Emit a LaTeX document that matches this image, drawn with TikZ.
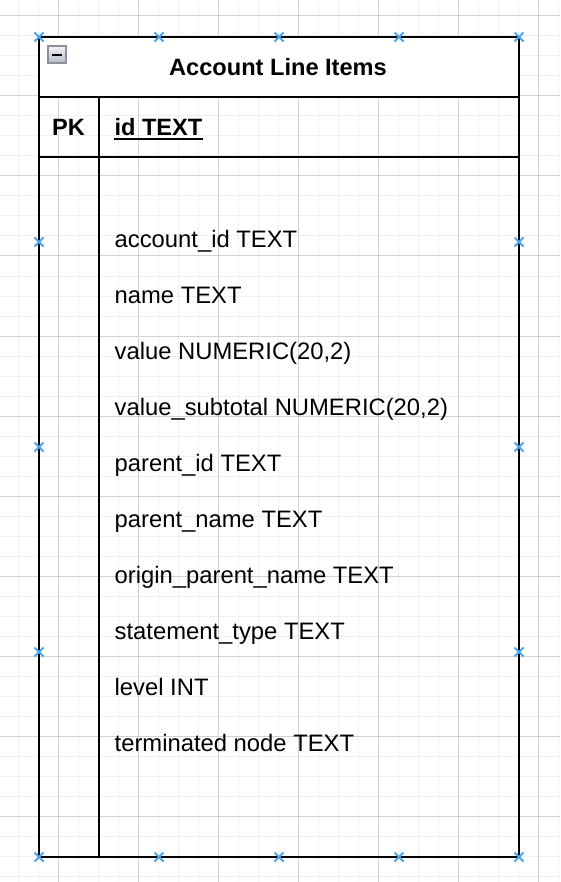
\documentclass[tikz,border=0pt]{standalone}
\usepackage{fontspec}
\setmainfont{Liberation Sans}
\definecolor{minorgrid}{HTML}{F0F0F0}
\definecolor{majorgrid}{HTML}{D2D2D2}
\definecolor{handle}{HTML}{4AA6F0}
\definecolor{iconborder}{HTML}{8A909C}
\definecolor{icontop}{HTML}{F4F4F6}
\definecolor{iconbot}{HTML}{B8BAC0}
\begin{document}
\begin{tikzpicture}[x=1pt,y=-1pt,
  tableline/.style={line width=2pt,draw=black},
  fieldtext/.style={anchor=base west,inner sep=0pt,font=\fontsize{23.8}{28}\selectfont},
  boldtext/.style={inner sep=0pt,font=\fontsize{23.6}{28}\selectfont\bfseries},
  handlemark/.style={draw=handle,line width=2pt}]
\useasboundingbox (0,0) rectangle (560,882);
\fill[white] (0,0) rectangle (560,882);
% grid
\foreach \k in {0,...,27} {\draw[minorgrid,line width=1pt] ({18+20*\k},0) -- ({18+20*\k},882);}
\foreach \k in {0,...,43} {\draw[minorgrid,line width=1pt] (0,{16+20*\k}) -- (560,{16+20*\k});}
\foreach \k in {0,...,6} {\draw[majorgrid,line width=1pt] ({58+80*\k},0) -- ({58+80*\k},882);}
\foreach \k in {0,...,10} {\draw[majorgrid,line width=1pt] (0,{16+80*\k}) -- (560,{16+80*\k});}
% table
\coordinate (tl) at (39,37);
\coordinate (br) at (519,857);
\fill[white] (39,37) rectangle (519,97);
\draw[tableline] (tl) rectangle (br);
\draw[tableline] (39,97) -- (519,97);
\draw[tableline] (39,157) -- (519,157);
\draw[tableline] (99,97) -- (99,857);
% collapse icon
\shade[top color=icontop,bottom color=iconbot] (48,46) rectangle (66,63);
\draw[iconborder,line width=1.2pt] (48,46) rectangle (66,63);
\draw[black,line width=2pt] (52,55) -- (62,55);
% title
\node[boldtext,anchor=base] (title) at (278,75.7) {Account Line Items};
% primary key row
\node[boldtext,anchor=base] (pk) at (68.5,135.7) {PK};
\node[boldtext,anchor=base west] (idt) at (114.3,135.7) {id TEXT};
\draw[line width=1.6pt] ([yshift=-3.6pt]idt.base west) -- ([yshift=-3.6pt]idt.base east);
% fields
\node[fieldtext] (f1) at (114.5,247.7) {account\_id TEXT};
\node[fieldtext] (f2) at (114.5,303.7) {name TEXT};
\node[fieldtext] (f3) at (114.5,359.7) {value NUMERIC(20,2)};
\node[fieldtext] (f4) at (114.5,415.7) {value\_subtotal NUMERIC(20,2)};
\node[fieldtext] (f5) at (114.5,471.7) {parent\_id TEXT};
\node[fieldtext] (f6) at (114.5,527.7) {parent\_name TEXT};
\node[fieldtext] (f7) at (114.5,583.7) {origin\_parent\_name TEXT};
\node[fieldtext] (f8) at (114.5,639.7) {statement\_type TEXT};
\node[fieldtext] (f9) at (114.5,695.7) {level INT};
\node[fieldtext] (f10) at (114.5,751.7) {terminated node TEXT};
% selection handles
\foreach \x/\y in {39/37,159/37,279/37,399/37,519/37,39/857,159/857,279/857,399/857,519/857,39/242,39/447,39/652,519/242,519/447,519/652} {
  \draw[handlemark] ({\x-4.5},{\y-4.5}) -- ({\x+4.5},{\y+4.5});
  \draw[handlemark] ({\x-4.5},{\y+4.5}) -- ({\x+4.5},{\y-4.5});
}
\end{tikzpicture}
\end{document}
